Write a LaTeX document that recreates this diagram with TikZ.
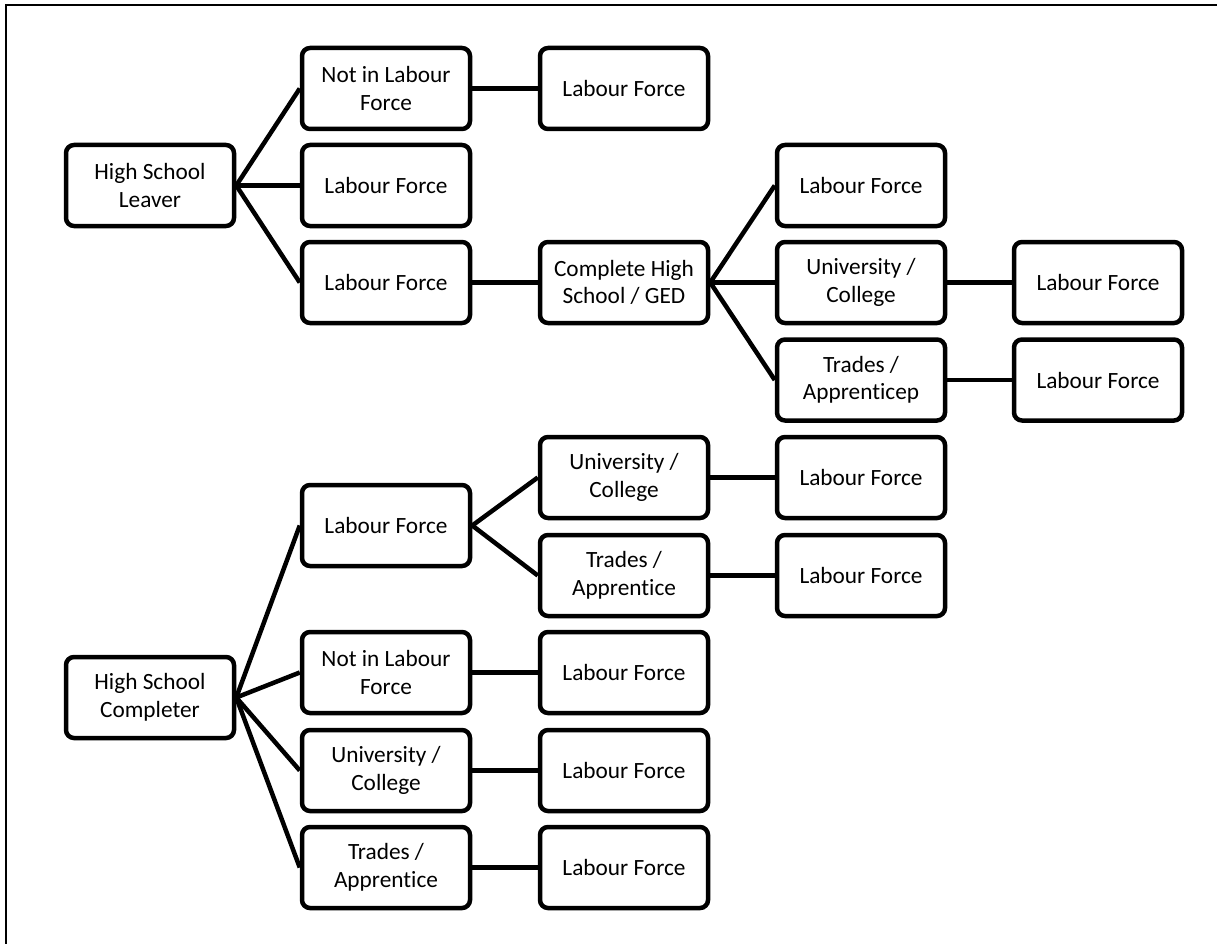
\documentclass[tikz,border=0pt]{standalone}
\usepackage{fontspec}
\setmainfont{Carlito}[Ligatures=NoCommon,RawFeature={-liga;-clig}]
\begin{document}
\begin{tikzpicture}[x=1pt,y=-1pt,
  box/.style={draw=black,line width=4.5pt,rounded corners=8pt,fill=white,
    minimum width=168pt,minimum height=81pt,align=center,inner sep=0pt,
    font=\fontsize{23.3}{27.5}\selectfont},
  link/.style={line width=4.5pt,draw=black}]
\useasboundingbox (0,0) rectangle (1217,944);
\draw[line width=2pt] (6,944) -- (6,5) -- (1217,5);
% top half
\node[box] (hsl) at (150,185.5) {High School\\Leaver};
\node[box] (nilf1) at (386,88.5) {Not in Labour\\Force};
\node[box] (lf1) at (624,88.5) {Labour Force};
\node[box] (lf2) at (386,185.5) {Labour Force};
\node[box] (lf3) at (386,282.5) {Labour Force};
\node[box] (ged) at (624,282.5) {Complete High\\School / GED};
\node[box] (lf4) at (861,185.5) {Labour Force};
\node[box] (uc1) at (861,282.5) {University /\\College};
\node[box] (lf5) at (1098,282.5) {Labour Force};
\node[box] (tr1) at (861,380) {Trades /\\Apprenticep};
\node[box] (lf6) at (1098,380) {Labour Force};
% bottom half
\node[box] (lf7) at (386,525.5) {Labour Force};
\node[box] (uc2) at (624,477.5) {University /\\College};
\node[box] (lf8) at (861,477.5) {Labour Force};
\node[box] (tr2) at (624,575.5) {Trades /\\Apprentice};
\node[box] (lf9) at (861,575.5) {Labour Force};
\node[box] (hsc) at (150,697.5) {High School\\Completer};
\node[box] (nilf2) at (386,672.5) {Not in Labour\\Force};
\node[box] (lf10) at (624,672.5) {Labour Force};
\node[box] (uc3) at (386,770.5) {University /\\College};
\node[box] (lf11) at (624,770.5) {Labour Force};
\node[box] (tr3) at (386,867.5) {Trades /\\Apprentice};
\node[box] (lf12) at (624,867.5) {Labour Force};
% connectors
\foreach \a/\b in {hsl/nilf1,hsl/lf2,hsl/lf3,nilf1/lf1,lf3/ged,ged/lf4,ged/uc1,ged/tr1,uc1/lf5,tr1/lf6,
  hsc/lf7,hsc/nilf2,hsc/uc3,hsc/tr3,lf7/uc2,lf7/tr2,uc2/lf8,tr2/lf9,nilf2/lf10,uc3/lf11,tr3/lf12}
  \draw[link] (\a.east) -- (\b.west);
\end{tikzpicture}
\end{document}
